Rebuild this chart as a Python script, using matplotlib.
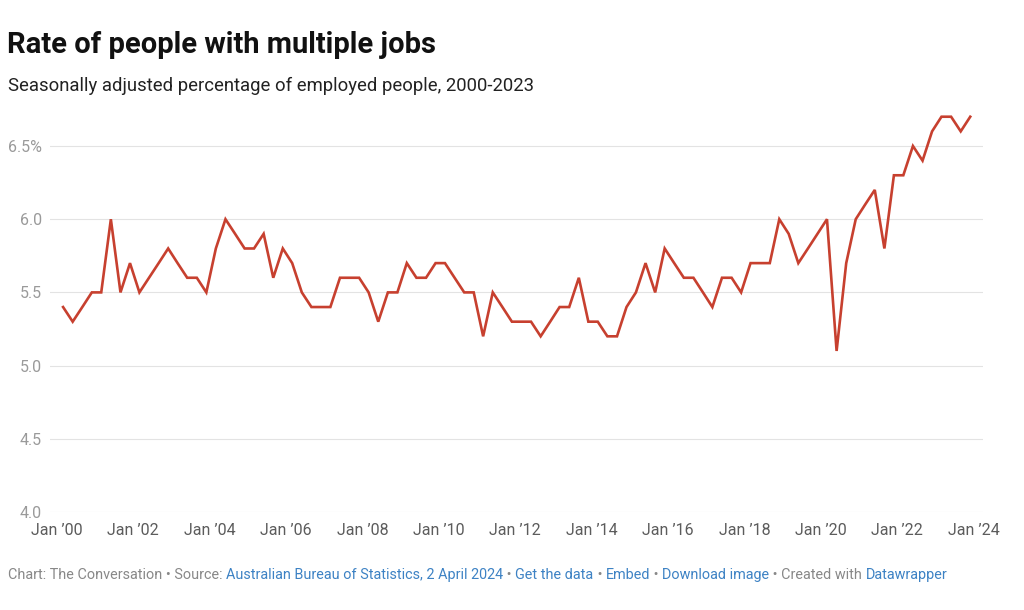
import matplotlib
matplotlib.use("Agg")
import matplotlib.pyplot as plt
import pandas as pd

# quarterly, seasonally adjusted multiple job holding rate (%)
rate = [5.4, 5.3, 5.4, 5.5, 5.5, 6.0, 5.5, 5.7, 5.5, 5.6, 5.7, 5.8,
        5.7, 5.6, 5.6, 5.5, 5.8, 6.0, 5.9, 5.8, 5.8, 5.9, 5.6, 5.8,
        5.7, 5.5, 5.4, 5.4, 5.4, 5.6, 5.6, 5.6, 5.5, 5.3, 5.5, 5.5,
        5.7, 5.6, 5.6, 5.7, 5.7, 5.6, 5.5, 5.5, 5.2, 5.5, 5.4, 5.3,
        5.3, 5.3, 5.2, 5.3, 5.4, 5.4, 5.6, 5.3, 5.3, 5.2, 5.2, 5.4,
        5.5, 5.7, 5.5, 5.8, 5.7, 5.6, 5.6, 5.5, 5.4, 5.6, 5.6, 5.5,
        5.7, 5.7, 5.7, 6.0, 5.9, 5.7, 5.8, 5.9, 6.0, 5.1, 5.7, 6.0,
        6.1, 6.2, 5.8, 6.3, 6.3, 6.5, 6.4, 6.6, 6.7, 6.7, 6.6, 6.7]
dates = pd.date_range("2000-03-01", periods=len(rate), freq="3MS")

y_ticks = [4.0, 4.5, 5.0, 5.5, 6.0, 6.5]
y_labels = ["4.0", "4.5", "5.0", "5.5", "6.0", "6.5%"]
x_ticks = pd.date_range("2000-01-01", "2024-01-01", freq="24MS")
x_labels = ["Jan \u2019" + d.strftime("%y") for d in x_ticks]

plt.rcParams['font.family'] = ['Roboto', 'DejaVu Sans']

fig = plt.figure(figsize=(10.24, 6.1), dpi=100, facecolor='white')
ax = fig.add_axes([50 / 1024, 1 - 512 / 610, 933 / 1024, (512 - 109.4) / 610])

ax.plot(dates, rate, color='#c7402f', linewidth=1.9, solid_joinstyle='miter', zorder=3)

ax.set_ylim(4.0, 6.75)
ax.set_xlim(pd.Timestamp("1999-10-28"), pd.Timestamp("2024-04-01"))
ax.set_yticks(y_ticks)
ax.set_yticklabels(y_labels)
ax.set_xticks(x_ticks)
ax.set_xticklabels(x_labels)
ax.grid(axis='y', color='#e3e3e3', linewidth=0.8, zorder=0)
for s in ax.spines.values():
    s.set_visible(False)
ax.tick_params(axis='y', length=0, pad=6, labelsize=11.5, labelcolor='#9a9a9a')
ax.tick_params(axis='x', length=0, pad=8, labelsize=11.5, labelcolor='#5c5c5c')

fig.text(7 / 1024, 1 - 53 / 610, "Rate of people with multiple jobs",
         fontsize=21, fontweight='bold', color='#111111', va='baseline')
fig.text(8 / 1024, 1 - 91 / 610, "Seasonally adjusted percentage of employed people, 2000-2023",
         fontsize=13.3, color='#222222', va='baseline')

# footer with link-coloured pieces
grey = '#888888'
blue = '#3d82c4'
footer = [("Chart: The Conversation \u2022 Source: ", grey),
          ("Australian Bureau of Statistics, 2 April 2024", blue),
          (" \u2022 ", grey), ("Get the data", blue),
          (" \u2022 ", grey), ("Embed", blue),
          (" \u2022 ", grey), ("Download image", blue),
          (" \u2022 Created with ", grey), ("Datawrapper", blue)]
fig.canvas.draw()
renderer = fig.canvas.get_renderer()
x = 8
for txt, col in footer:
    t = fig.text(x / 1024, 1 - 579 / 610, txt, fontsize=10.4, color=col, va='baseline')
    bb = t.get_window_extent(renderer=renderer)
    x += bb.width

fig.savefig("out.png", dpi=100, facecolor='white')
